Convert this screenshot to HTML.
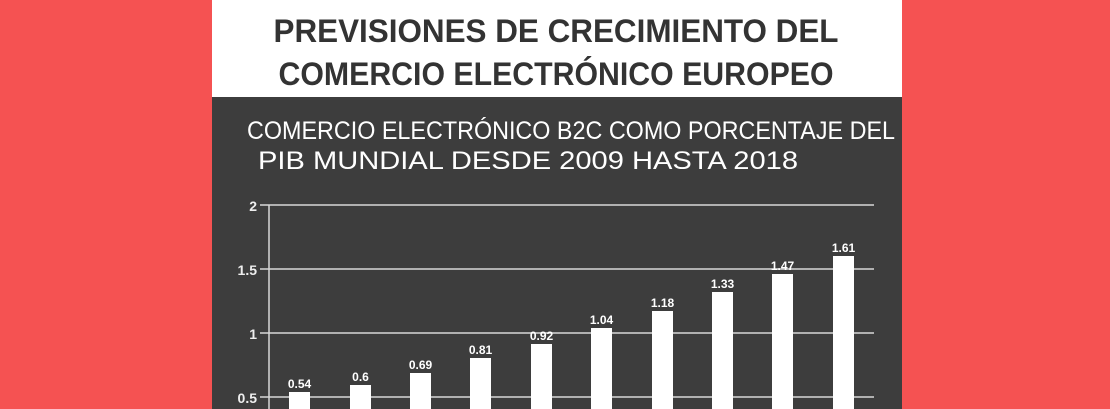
<!DOCTYPE html>
<html><head><meta charset="utf-8"><style>
html,body{margin:0;padding:0;background:#f55252;}
svg{display:block}
</style></head><body>
<svg width="1110" height="409" xmlns="http://www.w3.org/2000/svg" font-family="'Liberation Sans Narrow','Liberation Sans',sans-serif">
<rect width="1110" height="409" fill="#f55252"/>
<rect x="212" y="0" width="690" height="97" fill="#ffffff"/>
<rect x="212" y="97" width="690" height="312" fill="#3d3d3d"/>
<g fill="#333" font-weight="bold" font-size="32" text-anchor="middle">
<text x="556" y="42" textLength="565" lengthAdjust="spacingAndGlyphs">PREVISIONES DE CRECIMIENTO DEL</text>
<text x="556" y="85" textLength="555" lengthAdjust="spacingAndGlyphs">COMERCIO ELECTRÓNICO EUROPEO</text>
</g>
<g fill="#fff" font-size="25" text-anchor="middle">
<text x="571" y="139" textLength="648" lengthAdjust="spacingAndGlyphs">COMERCIO ELECTRÓNICO B2C COMO PORCENTAJE DEL</text>
<text x="528" y="169" textLength="540" lengthAdjust="spacingAndGlyphs">PIB MUNDIAL DESDE 2009 HASTA 2018</text>
</g>
<g stroke="#d8d8d8" stroke-width="1.5">
<line x1="260" y1="205" x2="874" y2="205"/>
<line x1="260" y1="269" x2="874" y2="269"/>
<line x1="260" y1="333" x2="874" y2="333"/>
<line x1="260" y1="397" x2="874" y2="397"/>
<line x1="269" y1="205" x2="269" y2="409"/>
</g>
<g fill="#eee" font-size="14" font-weight="bold" text-anchor="end">
<text x="257" y="211">2</text>
<text x="257" y="275">1.5</text>
<text x="257" y="339">1</text>
<text x="257" y="403">0.5</text>
</g>
<g fill="#fff">
<rect x="289" y="392" width="21" height="17"/>
<rect x="350" y="385" width="21" height="24"/>
<rect x="410" y="373" width="21" height="36"/>
<rect x="470" y="358" width="21" height="51"/>
<rect x="531" y="344" width="21" height="65"/>
<rect x="591" y="328" width="21" height="81"/>
<rect x="652" y="311" width="21" height="98"/>
<rect x="712" y="292" width="21" height="117"/>
<rect x="772" y="274" width="21" height="135"/>
<rect x="833" y="256" width="21" height="153"/>
</g>
<g fill="#fff" font-size="12" font-weight="bold" text-anchor="middle">
<text x="299.5" y="388">0.54</text>
<text x="360.5" y="381">0.6</text>
<text x="420.5" y="369">0.69</text>
<text x="480.5" y="354">0.81</text>
<text x="541.5" y="340">0.92</text>
<text x="601.5" y="324">1.04</text>
<text x="662.5" y="307">1.18</text>
<text x="722.5" y="288">1.33</text>
<text x="782.5" y="270">1.47</text>
<text x="843.5" y="252">1.61</text>
</g>
</svg>
</body></html>
